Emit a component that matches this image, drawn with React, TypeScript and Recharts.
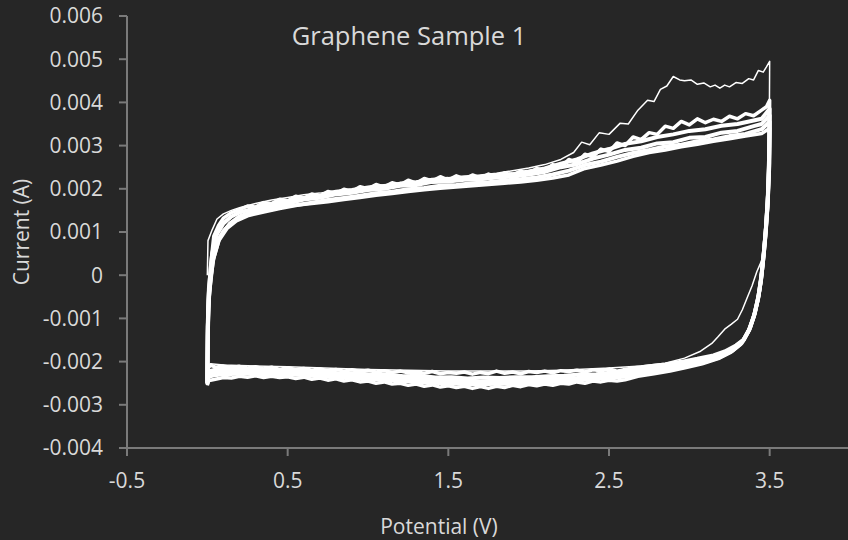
import { LineChart, Line, XAxis, YAxis } from 'recharts'

// potential (V) and current (mA), one loop per cycle
const xTicks = [-0.5, 0.5, 1.5, 2.5, 3.5]
const yTicks = [-0.004, -0.003, -0.002, -0.001, 0, 0.001, 0.002, 0.003, 0.004, 0.005, 0.006]

// first scan: the thin line with the hump near 2.9 V
const cycle1Up: [number, number][] = [
  [0, 0], [0.004, 0.8], [0.03, 1.05], [0.06, 1.3], [0.1, 1.42], [0.15, 1.5], [0.2, 1.56],
  [0.3, 1.66], [0.4, 1.74], [0.5, 1.8], [0.6, 1.86], [0.7, 1.9], [0.8, 1.96], [0.9, 2.0],
  [1.0, 2.06], [1.2, 2.13], [1.4, 2.21], [1.6, 2.28], [1.8, 2.36], [2.0, 2.48], [2.1, 2.56],
  [2.2, 2.68], [2.28, 2.84], [2.33, 3.08], [2.38, 3.02], [2.44, 3.3], [2.5, 3.26], [2.57, 3.52],
  [2.62, 3.5], [2.68, 3.82], [2.74, 4.05], [2.78, 4.02], [2.82, 4.3], [2.86, 4.38], [2.9, 4.6],
  [2.94, 4.52], [2.97, 4.5], [3.01, 4.52], [3.05, 4.42], [3.09, 4.45], [3.13, 4.36], [3.16, 4.4],
  [3.19, 4.33], [3.22, 4.4], [3.25, 4.36], [3.29, 4.46], [3.33, 4.44], [3.37, 4.55], [3.4, 4.52],
  [3.43, 4.74], [3.46, 4.7], [3.48, 4.82], [3.5, 4.95],
]
const cycle1Down: [number, number][] = [
  [3.5, 4.95], [3.497, 3.0], [3.49, 1.8], [3.48, 1.0], [3.465, 0.5], [3.44, 0.25], [3.42, 0.08],
  [3.39, -0.25], [3.36, -0.52], [3.33, -0.8], [3.3, -1.02], [3.26, -1.14], [3.22, -1.25],
  [3.18, -1.42], [3.14, -1.58], [3.07, -1.76], [2.97, -1.92], [2.85, -2.04], [2.7, -2.1],
  [2.5, -2.15], [2.2, -2.2], [2.0, -2.22], [1.5, -2.22], [1.0, -2.18], [0.5, -2.12], [0.1, -2.08],
  [0.02, -2.05], [0.005, -2.1], [0, -2.45],
]

const cycle2Up: [number, number][] = [
  [0, -2.45], [0.002, -1.2], [0.006, -0.5], [0.02, 0.2], [0.04, 0.9], [0.07, 1.15], [0.1, 1.32],
  [0.15, 1.45], [0.2, 1.52], [0.25, 1.6], [0.3, 1.58], [0.35, 1.68], [0.4, 1.66], [0.45, 1.76],
  [0.5, 1.72], [0.55, 1.83], [0.6, 1.78], [0.65, 1.88], [0.7, 1.83], [0.75, 1.94], [0.8, 1.89],
  [0.85, 1.99], [0.9, 1.94], [0.95, 2.05], [1.0, 2.0], [1.05, 2.1], [1.1, 2.04], [1.15, 2.14],
  [1.2, 2.09], [1.25, 2.2], [1.3, 2.13], [1.35, 2.24], [1.4, 2.18], [1.45, 2.28], [1.5, 2.2],
  [1.55, 2.3], [1.6, 2.23], [1.65, 2.32], [1.7, 2.25], [1.75, 2.34], [1.8, 2.28], [1.85, 2.37],
  [1.9, 2.31], [1.95, 2.41], [2.0, 2.35], [2.05, 2.47], [2.1, 2.42], [2.15, 2.56], [2.2, 2.5],
  [2.25, 2.68], [2.3, 2.6], [2.35, 2.8], [2.4, 2.74], [2.45, 2.92], [2.5, 2.86], [2.55, 3.06],
  [2.6, 3.0], [2.65, 3.2], [2.7, 3.14], [2.75, 3.3], [2.8, 3.26], [2.85, 3.45], [2.9, 3.4],
  [2.95, 3.56], [3.0, 3.48], [3.05, 3.62], [3.1, 3.53], [3.15, 3.61], [3.2, 3.56], [3.25, 3.68],
  [3.3, 3.62], [3.35, 3.74], [3.4, 3.69], [3.45, 3.82], [3.48, 3.9], [3.5, 4.05],
]
const cycle2Down: [number, number][] = [
  [3.5, 4.05], [3.498, 3.0], [3.49, 2.0], [3.478, 1.2], [3.465, 0.6], [3.452, 0.1], [3.435, -0.4],
  [3.41, -0.85], [3.38, -1.2], [3.34, -1.48], [3.29, -1.62], [3.22, -1.76], [3.15, -1.85],
  [3.05, -1.93], [2.95, -2.0], [2.85, -2.06], [2.75, -2.1], [2.65, -2.15], [2.6, -2.18],
  [2.55, -2.22], [2.5, -2.17], [2.45, -2.21], [2.4, -2.19], [2.35, -2.24], [2.3, -2.2],
  [2.25, -2.23], [2.2, -2.21], [2.15, -2.26], [2.1, -2.22], [2.05, -2.25], [2.0, -2.23],
  [1.95, -2.28], [1.9, -2.24], [1.85, -2.27], [1.8, -2.22], [1.75, -2.28], [1.7, -2.25],
  [1.65, -2.29], [1.6, -2.24], [1.55, -2.27], [1.5, -2.25], [1.45, -2.28], [1.4, -2.23],
  [1.35, -2.27], [1.3, -2.24], [1.25, -2.26], [1.2, -2.22], [1.15, -2.25], [1.1, -2.21],
  [1.05, -2.24], [1.0, -2.2], [0.95, -2.23], [0.9, -2.19], [0.85, -2.22], [0.8, -2.18],
  [0.75, -2.21], [0.7, -2.17], [0.65, -2.2], [0.6, -2.16], [0.55, -2.19], [0.5, -2.14],
  [0.45, -2.18], [0.4, -2.13], [0.35, -2.17], [0.3, -2.12], [0.25, -2.15], [0.2, -2.11],
  [0.15, -2.14], [0.1, -2.1], [0.05, -2.13], [0.02, -2.08], [0.005, -2.15], [0, -2.48],
]

const cycle3Up: [number, number][] = [
  [0, -2.47], [0.003, -1.1], [0.01, -0.3], [0.03, 0.5], [0.06, 0.95], [0.1, 1.2], [0.15, 1.36],
  [0.2, 1.45], [0.3, 1.56], [0.4, 1.65], [0.5, 1.72], [0.6, 1.79], [0.7, 1.84], [0.8, 1.91],
  [0.9, 1.96], [1.0, 2.02], [1.1, 2.06], [1.2, 2.12], [1.3, 2.15], [1.4, 2.21], [1.5, 2.23],
  [1.6, 2.27], [1.7, 2.28], [1.8, 2.32], [1.9, 2.34], [2.0, 2.4], [2.1, 2.47], [2.2, 2.58],
  [2.3, 2.68], [2.4, 2.82], [2.5, 2.92], [2.6, 3.04], [2.7, 3.1], [2.8, 3.2], [2.9, 3.26],
  [3.0, 3.34], [3.1, 3.38], [3.2, 3.46], [3.3, 3.5], [3.4, 3.58], [3.45, 3.62], [3.5, 3.85],
]
const cycle3Down: [number, number][] = [
  [3.5, 3.85], [3.497, 2.8], [3.489, 1.85], [3.477, 1.1], [3.464, 0.52], [3.45, 0.02],
  [3.432, -0.45], [3.408, -0.88], [3.378, -1.22], [3.338, -1.5], [3.285, -1.66], [3.21, -1.81],
  [3.12, -1.92], [3.02, -2.0], [2.92, -2.08], [2.82, -2.13], [2.72, -2.18], [2.62, -2.23],
  [2.52, -2.25], [2.42, -2.29], [2.32, -2.3], [2.22, -2.33], [2.12, -2.34], [2.02, -2.36],
  [1.92, -2.36], [1.82, -2.38], [1.72, -2.37], [1.62, -2.39], [1.52, -2.36], [1.42, -2.37],
  [1.32, -2.33], [1.22, -2.34], [1.12, -2.3], [1.02, -2.3], [0.92, -2.27], [0.82, -2.27],
  [0.72, -2.24], [0.62, -2.23], [0.52, -2.21], [0.42, -2.21], [0.32, -2.19], [0.22, -2.19],
  [0.12, -2.17], [0.05, -2.19], [0.01, -2.22], [0, -2.5],
]

const cycle4Up: [number, number][] = [
  [0, -2.5], [0.003, -1.4], [0.008, -0.6], [0.03, 0.3], [0.06, 0.75], [0.1, 1.02], [0.15, 1.22],
  [0.2, 1.36], [0.3, 1.49], [0.4, 1.6], [0.5, 1.66], [0.6, 1.75], [0.7, 1.79], [0.8, 1.87],
  [0.9, 1.91], [1.0, 1.97], [1.1, 2.0], [1.2, 2.07], [1.3, 2.09], [1.4, 2.16], [1.5, 2.17],
  [1.6, 2.21], [1.7, 2.22], [1.8, 2.26], [1.9, 2.28], [2.0, 2.33], [2.1, 2.39], [2.2, 2.5],
  [2.3, 2.57], [2.4, 2.7], [2.5, 2.79], [2.6, 2.9], [2.7, 2.95], [2.8, 3.05], [2.9, 3.08],
  [3.0, 3.18], [3.1, 3.2], [3.2, 3.3], [3.3, 3.34], [3.4, 3.45], [3.45, 3.5], [3.5, 3.7],
]
const cycle4Down: [number, number][] = [
  [3.5, 3.7], [3.497, 2.6], [3.488, 1.7], [3.475, 1.0], [3.462, 0.45], [3.448, -0.05],
  [3.43, -0.5], [3.405, -0.9], [3.375, -1.25], [3.335, -1.52], [3.28, -1.7], [3.2, -1.86],
  [3.1, -1.98], [3.0, -2.06], [2.9, -2.14], [2.8, -2.2], [2.7, -2.25], [2.6, -2.3], [2.5, -2.33],
  [2.4, -2.35], [2.3, -2.38], [2.2, -2.4], [2.1, -2.42], [2.0, -2.43], [1.9, -2.45], [1.8, -2.44],
  [1.7, -2.46], [1.6, -2.45], [1.5, -2.44], [1.4, -2.42], [1.3, -2.41], [1.2, -2.38], [1.1, -2.37],
  [1.0, -2.34], [0.9, -2.33], [0.8, -2.3], [0.7, -2.3], [0.6, -2.27], [0.5, -2.26], [0.4, -2.25],
  [0.3, -2.24], [0.2, -2.23], [0.1, -2.22], [0.03, -2.25], [0.005, -2.3], [0, -2.5],
]

const cycle5Up: [number, number][] = [
  [0, -2.52], [0.003, -1.2], [0.012, -0.4], [0.035, 0.35], [0.07, 0.8], [0.12, 1.08],
  [0.18, 1.26], [0.25, 1.38], [0.35, 1.47], [0.45, 1.55], [0.55, 1.62], [0.65, 1.68],
  [0.75, 1.74], [0.85, 1.79], [0.95, 1.84], [1.05, 1.9], [1.15, 1.93], [1.25, 1.99], [1.35, 2.02],
  [1.45, 2.07], [1.55, 2.09], [1.65, 2.13], [1.75, 2.15], [1.85, 2.19], [1.95, 2.22], [2.05, 2.26],
  [2.15, 2.33], [2.25, 2.42], [2.35, 2.55], [2.45, 2.63], [2.55, 2.74], [2.65, 2.83], [2.75, 2.9],
  [2.85, 2.98], [2.95, 3.02], [3.05, 3.1], [3.15, 3.14], [3.25, 3.22], [3.35, 3.27], [3.45, 3.38],
  [3.5, 3.55],
]
const cycle5Down: [number, number][] = [
  [3.5, 3.55], [3.497, 2.5], [3.487, 1.6], [3.474, 0.92], [3.46, 0.38], [3.446, -0.12],
  [3.427, -0.56], [3.402, -0.95], [3.37, -1.28], [3.328, -1.56], [3.27, -1.74], [3.19, -1.9],
  [3.09, -2.02], [2.99, -2.1], [2.89, -2.18], [2.79, -2.24], [2.69, -2.3], [2.59, -2.35],
  [2.49, -2.38], [2.39, -2.41], [2.29, -2.44], [2.19, -2.46], [2.09, -2.49], [1.99, -2.49],
  [1.89, -2.51], [1.79, -2.51], [1.69, -2.53], [1.59, -2.52], [1.49, -2.5], [1.39, -2.49],
  [1.29, -2.47], [1.19, -2.44], [1.09, -2.42], [0.99, -2.4], [0.89, -2.38], [0.79, -2.36],
  [0.69, -2.34], [0.59, -2.31], [0.49, -2.3], [0.39, -2.29], [0.29, -2.28], [0.19, -2.28],
  [0.1, -2.29], [0.04, -2.32], [0.01, -2.35], [0, -2.52],
]

const cycle6Up: [number, number][] = [
  [0, -2.4], [0.003, -0.9], [0.02, -0.1], [0.04, 0.4], [0.08, 0.9], [0.14, 1.2], [0.25, 1.43],
  [0.35, 1.52], [0.45, 1.6], [0.55, 1.62], [0.65, 1.66], [0.75, 1.7], [0.85, 1.75], [0.95, 1.8],
  [1.05, 1.85], [1.15, 1.89], [1.25, 1.94], [1.35, 1.98], [1.45, 2.01], [1.55, 2.04], [1.65, 2.07],
  [1.75, 2.1], [1.85, 2.13], [1.95, 2.16], [2.05, 2.2], [2.15, 2.25], [2.25, 2.32], [2.35, 2.47],
  [2.45, 2.55], [2.55, 2.64], [2.65, 2.75], [2.75, 2.84], [2.85, 2.9], [2.95, 2.97], [3.05, 3.03],
  [3.15, 3.1], [3.25, 3.16], [3.35, 3.22], [3.45, 3.28], [3.5, 3.4],
]
const cycle6Down: [number, number][] = [
  [3.5, 3.4], [3.496, 2.4], [3.486, 1.5], [3.472, 0.85], [3.458, 0.3], [3.443, -0.2],
  [3.424, -0.62], [3.398, -1.0], [3.365, -1.32], [3.32, -1.6], [3.26, -1.78], [3.18, -1.93],
  [3.08, -2.05], [2.98, -2.14], [2.88, -2.22], [2.78, -2.28], [2.68, -2.34], [2.6, -2.42],
  [2.55, -2.45], [2.5, -2.43], [2.45, -2.47], [2.4, -2.45], [2.35, -2.5], [2.3, -2.47],
  [2.25, -2.52], [2.2, -2.5], [2.15, -2.55], [2.1, -2.52], [2.05, -2.56], [2.0, -2.53],
  [1.95, -2.58], [1.9, -2.55], [1.85, -2.6], [1.8, -2.57], [1.75, -2.62], [1.7, -2.58],
  [1.65, -2.62], [1.6, -2.57], [1.55, -2.6], [1.5, -2.56], [1.45, -2.59], [1.4, -2.54],
  [1.35, -2.57], [1.3, -2.52], [1.25, -2.55], [1.2, -2.5], [1.15, -2.52], [1.1, -2.47],
  [1.05, -2.5], [1.0, -2.45], [0.95, -2.47], [0.9, -2.42], [0.85, -2.45], [0.8, -2.4],
  [0.75, -2.43], [0.7, -2.38], [0.65, -2.41], [0.6, -2.36], [0.55, -2.39], [0.5, -2.35],
  [0.45, -2.37], [0.4, -2.34], [0.35, -2.37], [0.3, -2.33], [0.25, -2.36], [0.2, -2.34],
  [0.15, -2.38], [0.1, -2.37], [0.05, -2.41], [0.02, -2.43], [0.005, -2.45], [0, -2.55],
]

const toRows = (pts: [number, number][]) => pts.map(([x, mA]) => ({ x, y: mA / 1000 }))

const cycles = [
  { key: 'c1', rows: toRows([...cycle1Up, ...cycle1Down]), width: 1.5 },
  { key: 'c2', rows: toRows([...cycle2Up, ...cycle2Down]), width: 3.5 },
  { key: 'c3', rows: toRows([...cycle3Up, ...cycle3Down]), width: 4 },
  { key: 'c4', rows: toRows([...cycle4Up, ...cycle4Down]), width: 4 },
  { key: 'c5', rows: toRows([...cycle5Up, ...cycle5Down]), width: 4 },
  { key: 'c6', rows: toRows([...cycle6Up, ...cycle6Down]), width: 3.5 },
]

const FONT = '"Open Sans", sans-serif'
const TEXT = '#d9d9d9'
const AXIS = '#7a7a7a'

export default function App() {
  return (
    <div
      style={{
        position: 'absolute',
        left: 0,
        top: 0,
        width: 848,
        height: 540,
        overflow: 'hidden',
        background: '#262626',
        fontFamily: FONT,
      }}
    >
      <LineChart width={850} height={540} margin={{ top: 16, right: 0, bottom: 0, left: 0 }}>
        <XAxis
          type="number"
          dataKey="x"
          domain={[-0.5, 4]}
          ticks={xTicks}
          allowDataOverflow
          height={92}
          stroke={AXIS}
          strokeWidth={2}
          tickSize={8}
          tickMargin={17}
          tick={{ fill: TEXT, fontSize: 21, fontFamily: FONT }}
        />
        <YAxis
          type="number"
          dataKey="y"
          domain={[-0.004, 0.006]}
          ticks={yTicks}
          allowDataOverflow
          width={127}
          stroke={AXIS}
          strokeWidth={2}
          tickSize={8}
          tickMargin={16}
          tick={{ fill: TEXT, fontSize: 21, fontFamily: FONT }}
        />
        {cycles.map((c) => (
          <Line
            key={c.key}
            data={c.rows}
            dataKey="y"
            type="linear"
            stroke="#ffffff"
            strokeWidth={c.width}
            strokeLinejoin="round"
            dot={false}
            activeDot={false}
            isAnimationActive={false}
          />
        ))}
      </LineChart>
      <svg
        width={848}
        height={540}
        style={{ position: 'absolute', left: 0, top: 0, pointerEvents: 'none' }}
      >
        <text x={409} y={45} textAnchor="middle" fill={TEXT} fontSize={25.5} fontFamily={FONT}>
          Graphene Sample 1
        </text>
        <text
          transform="translate(29,232) rotate(-90)"
          textAnchor="middle"
          fill={TEXT}
          fontSize={21}
          fontFamily={FONT}
        >
          Current (A)
        </text>
        <text x={439} y={534} textAnchor="middle" fill={TEXT} fontSize={21} fontFamily={FONT}>
          Potential (V)
        </text>
      </svg>
    </div>
  )
}
